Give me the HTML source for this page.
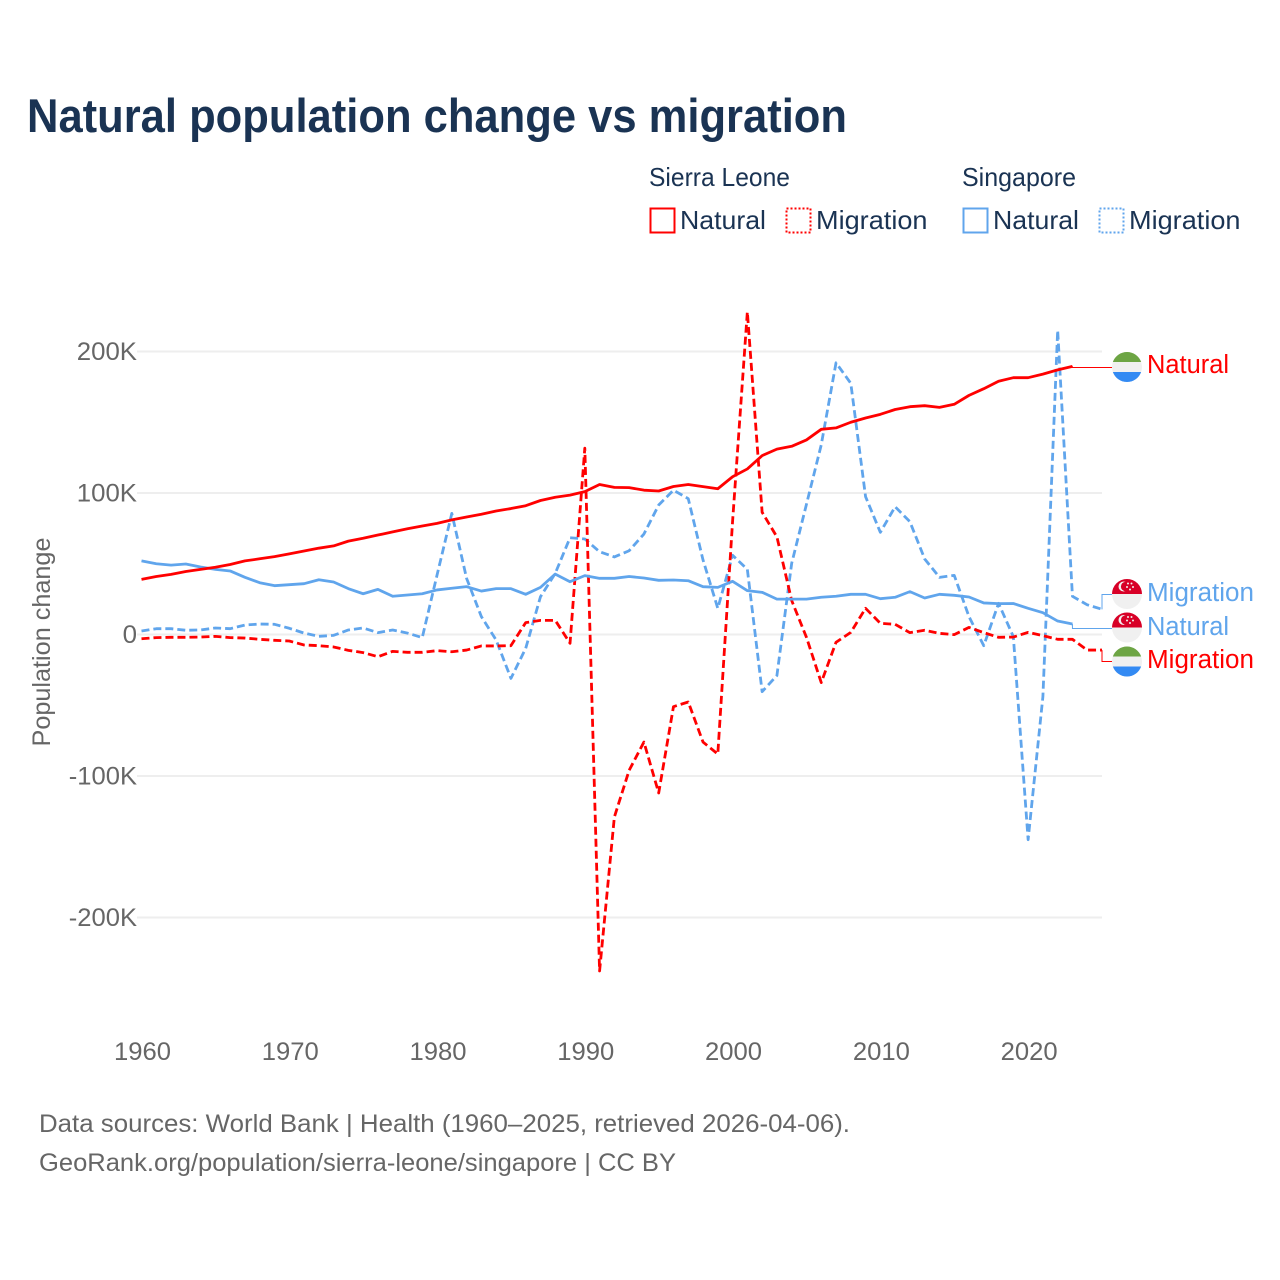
<!DOCTYPE html>
<html lang="en">
<head>
<meta charset="utf-8">
<title>Natural population change vs migration</title>
<style>
html,body{margin:0;padding:0;background:#fff;}
svg{display:block;}
text{font-family:"Liberation Sans",sans-serif;}
</style>
</head>
<body>
<svg id="chart" xmlns="http://www.w3.org/2000/svg" width="1280" height="1280" viewBox="0 0 1280 1280">
  <rect width="1280" height="1280" fill="#ffffff"/>
  <text x="27" y="132" font-size="47" font-weight="700" fill="#1a3353" textLength="820" lengthAdjust="spacingAndGlyphs">Natural population change vs migration</text>

  <g font-size="26" fill="#1a3353">
    <text x="649" y="186" textLength="141" lengthAdjust="spacingAndGlyphs">Sierra Leone</text>
    <text x="962" y="186" textLength="114" lengthAdjust="spacingAndGlyphs">Singapore</text>
    <rect x="650.5" y="208.5" width="24" height="24" fill="none" stroke="#ff0000" stroke-width="2"/>
    <text x="680" y="229" textLength="86" lengthAdjust="spacingAndGlyphs">Natural</text>
    <rect x="786.5" y="208.5" width="24" height="24" fill="none" stroke="#ff0000" stroke-width="2" stroke-dasharray="2 2"/>
    <text x="816" y="229" textLength="111.5" lengthAdjust="spacingAndGlyphs">Migration</text>
    <rect x="963.5" y="208.5" width="24" height="24" fill="none" stroke="#60a5ec" stroke-width="2"/>
    <text x="993" y="229" textLength="86" lengthAdjust="spacingAndGlyphs">Natural</text>
    <rect x="1099.5" y="208.5" width="24" height="24" fill="none" stroke="#60a5ec" stroke-width="2" stroke-dasharray="2 2"/>
    <text x="1129" y="229" textLength="111.5" lengthAdjust="spacingAndGlyphs">Migration</text>
  </g>

  <g id="grid"></g>
  <g id="yticks" font-size="25" fill="#666666" text-anchor="end"></g>
  <g id="xticks" font-size="25" fill="#666666" text-anchor="middle"></g>
  <text transform="translate(50,642) rotate(-90)" font-size="25" fill="#666666" text-anchor="middle" textLength="209" lengthAdjust="spacingAndGlyphs">Population change</text>

  <g id="series"></g>

  <g transform="translate(1127,367)">
    <circle r="15" fill="#f0f0f0"/><path d="M-14.14,-5A15,15 0 0 1 14.14,-5Z" fill="#6da544"/><path d="M-14.14,5A15,15 0 0 0 14.14,5Z" fill="#338af3"/>
  </g>
  <g transform="translate(1127,594)">
    <circle r="15" fill="#f0f0f0"/><path d="M-15,0A15,15 0 0 1 15,0Z" fill="#d80027"/>
    <circle cx="-3.5" cy="-7.5" r="5" fill="#f0f0f0"/><circle cx="-1.5" cy="-7.5" r="4.6" fill="#d80027"/>
    <circle cx="1" cy="-10.5" r="1" fill="#f0f0f0"/><circle cx="4.5" cy="-10.5" r="1" fill="#f0f0f0"/><circle cx="6" cy="-7" r="1" fill="#f0f0f0"/><circle cx="3" cy="-4.5" r="1" fill="#f0f0f0"/><circle cx="0" cy="-7" r="1" fill="#f0f0f0"/>
  </g>
  <g transform="translate(1127,627.5)">
    <circle r="15" fill="#f0f0f0"/><path d="M-15,0A15,15 0 0 1 15,0Z" fill="#d80027"/>
    <circle cx="-3.5" cy="-7.5" r="5" fill="#f0f0f0"/><circle cx="-1.5" cy="-7.5" r="4.6" fill="#d80027"/>
    <circle cx="1" cy="-10.5" r="1" fill="#f0f0f0"/><circle cx="4.5" cy="-10.5" r="1" fill="#f0f0f0"/><circle cx="6" cy="-7" r="1" fill="#f0f0f0"/><circle cx="3" cy="-4.5" r="1" fill="#f0f0f0"/><circle cx="0" cy="-7" r="1" fill="#f0f0f0"/>
  </g>
  <g transform="translate(1127,661.5)">
    <circle r="15" fill="#f0f0f0"/><path d="M-14.14,-5A15,15 0 0 1 14.14,-5Z" fill="#6da544"/><path d="M-14.14,5A15,15 0 0 0 14.14,5Z" fill="#338af3"/>
  </g>

  <g font-size="25.5">
    <text x="1147" y="373" fill="#ff0000" textLength="82" lengthAdjust="spacingAndGlyphs">Natural</text>
    <text x="1147" y="601" fill="#60a5ec" textLength="107" lengthAdjust="spacingAndGlyphs">Migration</text>
    <text x="1147" y="635" fill="#60a5ec" textLength="82" lengthAdjust="spacingAndGlyphs">Natural</text>
    <text x="1147" y="668" fill="#ff0000" textLength="107" lengthAdjust="spacingAndGlyphs">Migration</text>
  </g>

  <text x="39" y="1132" font-size="25" fill="#666666" textLength="811" lengthAdjust="spacingAndGlyphs">Data sources: World Bank | Health (1960–2025, retrieved 2026-04-06).</text>
  <text x="39" y="1171" font-size="25" fill="#666666" textLength="637" lengthAdjust="spacingAndGlyphs">GeoRank.org/population/sierra-leone/singapore | CC BY</text>
</svg>
<script>
const startYear = 1960;
const yTickValues = [200, 100, 0, -100, -200];
const yTickLabels = ['200K', '100K', '0', '-100K', '-200K'];
const xTickValues = [1960, 1970, 1980, 1990, 2000, 2010, 2020];

const sierraLeoneNatural = [39,41,42.5,44.5,46,47.5,49.5,52,53.5,55,57,59,61,62.6,66,68,70.3,72.5,74.7,76.7,78.5,81,83,85,87.3,89,91,94.7,97,98.5,101,106,104,103.8,102,101.4,104.6,106,104.5,103,111.5,117,126.4,131,133,137.5,145,146,150,153,155.6,159,161,161.7,160.5,162.7,169,173.7,179,181.5,181.5,184,187,189.5];
const sierraLeoneMigration = [-3,-2.2,-2,-2,-1.8,-1.3,-2.2,-2.5,-3.4,-4.1,-4.6,-7.4,-7.9,-8.8,-11.2,-12.8,-15.7,-11.9,-12.6,-12.6,-11.4,-12.2,-11,-8.1,-8.1,-7.9,8.4,10,10,-6.2,131.7,-237.8,-129,-96,-76,-112,-51,-47.7,-76,-84.5,80,228,86.4,69,24,-2,-34,-5.5,1.5,18.5,7.9,7.2,1.3,3,0.8,-0.1,5,1.3,-2,-1.8,1.5,-0.8,-3.4,-3.4,-11,-11];
const singaporeNatural = [52,50,49,49.8,47.7,46,44.9,40.4,36.6,34.5,35.2,35.9,38.7,37.1,32.4,28.8,31.9,27,27.9,28.8,31.5,32.7,33.8,30.7,32.4,32.4,28.4,33.3,42.7,37.3,41.6,39.7,39.7,41,39.9,38.3,38.5,38,33.8,33.3,37.6,31,29.8,25,25,25,26.3,27,28.4,28.4,25.3,26.3,30.3,25.8,28.4,27.7,26.5,22.3,21.8,21.9,18.5,15.4,9.5,7.4];
const singaporeMigration = [2.5,4.1,4.1,3,3.2,4.6,4.1,6.7,7.4,7.2,4.4,1,-1.3,-0.6,3.2,4.6,1.3,3.2,1,-2.2,42,85.6,39.7,12.6,-3.9,-31,-9.8,26.7,43.2,68.4,67.5,58.5,54.8,59.2,71,91.5,102,96,52.7,18.5,56,46,-40.4,-29,50.3,92,134,192,177.5,97.4,72.2,90.3,79.7,53.4,40.4,41.8,12.6,-7.9,22,-1.5,-145,-44,215,27,21,17.8];

const svgNS = 'http://www.w3.org/2000/svg';
const RED = '#ff0000';
const BLUE = '#60a5ec';

function xScale(year) { return 141.5 + (year - 1960) * (1102 - 141.5) / 65; }
function yScale(v) { return 634.5 - v * 1.415; }
function tickWidth(label) {
  let w = 0;
  for (const c of label) { w += c === 'K' ? 17 : c === '-' ? 8 : 14.4; }
  return w;
}

const grid = document.getElementById('grid');
const yticks = document.getElementById('yticks');
const xticks = document.getElementById('xticks');
const series = document.getElementById('series');

yTickValues.forEach(function (v, i) {
  const line = document.createElementNS(svgNS, 'line');
  
  
  line.setAttribute('x1', 137);
  line.setAttribute('x2', 1102);
  line.setAttribute('y1', yScale(v));
  line.setAttribute('y2', yScale(v));
  line.setAttribute('stroke', '#eeeeee');
  line.setAttribute('stroke-width', 2);
  grid.appendChild(line);
  const t = document.createElementNS(svgNS, 'text');
  
  
  t.setAttribute('x', 137);
  t.setAttribute('y', yScale(v) + 8.5);
  t.setAttribute('textLength', tickWidth(yTickLabels[i]));
  t.setAttribute('lengthAdjust', 'spacingAndGlyphs');
  t.textContent = yTickLabels[i];
  yticks.appendChild(t);
});

xTickValues.forEach(function (year) {
  const t = document.createElementNS(svgNS, 'text');
  
  
  t.setAttribute('x', xScale(year) + 1);
  t.setAttribute('y', 1060);
  t.setAttribute('textLength', 57);
  t.setAttribute('lengthAdjust', 'spacingAndGlyphs');
  t.textContent = String(year);
  xticks.appendChild(t);
});

function linePath(values) {
  return values.map(function (v, i) {
    return (i ? 'L' : 'M') + xScale(startYear + i).toFixed(2) + ',' + yScale(v).toFixed(2);
  }).join(' ');
}

function drawSeries(values, color, dashed, name) {
  const p = document.createElementNS(svgNS, 'path');
  
  
  p.setAttribute('d', linePath(values));
  p.setAttribute('fill', 'none');
  p.setAttribute('stroke', color);
  p.setAttribute('stroke-width', 2.8);
  p.setAttribute('stroke-linejoin', 'round');
  if (dashed) { p.setAttribute('stroke-dasharray', '8 4'); }
  series.appendChild(p);
}

function drawLeader(values, color, labelY, name) {
  const lastX = xScale(startYear + values.length - 1);
  const lastY = yScale(values[values.length - 1]);
  const l = document.createElementNS(svgNS, 'path');
  
  
  l.setAttribute('d', 'M' + lastX + ',' + lastY + ' L' + lastX + ',' + labelY + ' L1112,' + labelY);
  l.setAttribute('fill', 'none');
  l.setAttribute('stroke', color);
  l.setAttribute('stroke-width', 1);
  series.appendChild(l);
}

drawSeries(singaporeMigration, BLUE, true, 'line-singapore-migration');
drawSeries(sierraLeoneMigration, RED, true, 'line-sierra-leone-migration');
drawSeries(singaporeNatural, BLUE, false, 'line-singapore-natural');
drawSeries(sierraLeoneNatural, RED, false, 'line-sierra-leone-natural');
drawLeader(sierraLeoneNatural, RED, 367.5, 'leader-sierra-leone-natural');
drawLeader(singaporeMigration, BLUE, 594.5, 'leader-singapore-migration');
drawLeader(singaporeNatural, BLUE, 628.5, 'leader-singapore-natural');
drawLeader(sierraLeoneMigration, RED, 661.5, 'leader-sierra-leone-migration');
</script>
</body>
</html>
